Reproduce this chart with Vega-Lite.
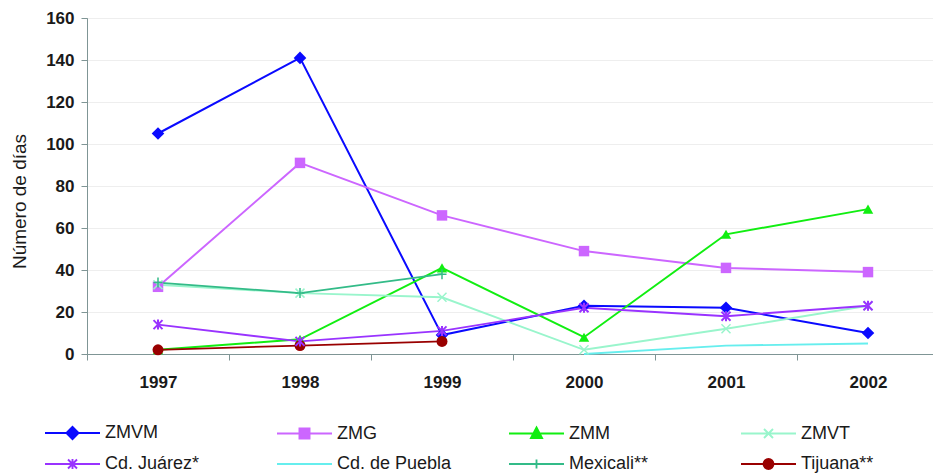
{
  "$schema": "https://vega.github.io/schema/vega-lite/v6.json",
  "autosize": "none",
  "width": 846,
  "height": 336,
  "padding": {"left": 87, "top": 18, "right": 0, "bottom": 119},
  "background": "white",
  "config": {
    "font": "Liberation Sans",
    "view": {"stroke": "#7f9595", "strokeWidth": 1},
    "axis": {"domainColor": "#7f9595", "tickColor": "#7f9595", "labelColor": "#1a1a1a", "titleColor": "#1a1a1a"}
  },
  "data": {"values": [
    {"serie": "ZMVM", "year": "1997", "value": 105},
    {"serie": "ZMVM", "year": "1998", "value": 141},
    {"serie": "ZMVM", "year": "1999", "value": 9},
    {"serie": "ZMVM", "year": "2000", "value": 23},
    {"serie": "ZMVM", "year": "2001", "value": 22},
    {"serie": "ZMVM", "year": "2002", "value": 10},
    {"serie": "ZMG", "year": "1997", "value": 32},
    {"serie": "ZMG", "year": "1998", "value": 91},
    {"serie": "ZMG", "year": "1999", "value": 66},
    {"serie": "ZMG", "year": "2000", "value": 49},
    {"serie": "ZMG", "year": "2001", "value": 41},
    {"serie": "ZMG", "year": "2002", "value": 39},
    {"serie": "ZMM", "year": "1997", "value": 2},
    {"serie": "ZMM", "year": "1998", "value": 7},
    {"serie": "ZMM", "year": "1999", "value": 41},
    {"serie": "ZMM", "year": "2000", "value": 8},
    {"serie": "ZMM", "year": "2001", "value": 57},
    {"serie": "ZMM", "year": "2002", "value": 69},
    {"serie": "ZMVT", "year": "1997", "value": 33},
    {"serie": "ZMVT", "year": "1998", "value": 29},
    {"serie": "ZMVT", "year": "1999", "value": 27},
    {"serie": "ZMVT", "year": "2000", "value": 2},
    {"serie": "ZMVT", "year": "2001", "value": 12},
    {"serie": "ZMVT", "year": "2002", "value": 23},
    {"serie": "Cd. Juárez*", "year": "1997", "value": 14},
    {"serie": "Cd. Juárez*", "year": "1998", "value": 6},
    {"serie": "Cd. Juárez*", "year": "1999", "value": 11},
    {"serie": "Cd. Juárez*", "year": "2000", "value": 22},
    {"serie": "Cd. Juárez*", "year": "2001", "value": 18},
    {"serie": "Cd. Juárez*", "year": "2002", "value": 23},
    {"serie": "Cd. de Puebla", "year": "2000", "value": 0},
    {"serie": "Cd. de Puebla", "year": "2001", "value": 4},
    {"serie": "Cd. de Puebla", "year": "2002", "value": 5},
    {"serie": "Mexicali**", "year": "1997", "value": 34},
    {"serie": "Mexicali**", "year": "1998", "value": 29},
    {"serie": "Mexicali**", "year": "1999", "value": 38},
    {"serie": "Tijuana**", "year": "1997", "value": 2},
    {"serie": "Tijuana**", "year": "1998", "value": 4},
    {"serie": "Tijuana**", "year": "1999", "value": 6}
  ]},
  "encoding": {
    "x": {
      "field": "year", "type": "ordinal",
      "scale": {"type": "band", "paddingInner": 0, "paddingOuter": 0, "range": [0, 852]},
      "axis": {"title": null, "labelAngle": 0, "tickBand": "extent", "tickSize": 6, "labelPadding": 14, "labelFontSize": 17, "labelFontWeight": "bold", "grid": false, "labelBound": false, "labelOverlap": false}
    },
    "y": {
      "field": "value", "type": "quantitative",
      "scale": {"domain": [0, 160], "nice": false},
      "axis": {"title": "Número de días", "values": [0, 20, 40, 60, 80, 100, 120, 140, 160], "tickSize": 6, "labelPadding": 7, "labelFontSize": 17, "labelFontWeight": "bold", "titleFontSize": 19, "titleFontWeight": "normal", "titlePadding": 16, "titleY": 183, "grid": true, "gridColor": "#eeeeee"}
    },
    "color": {
      "field": "serie", "type": "nominal",
      "scale": {
        "domain": ["ZMVM", "ZMG", "ZMM", "ZMVT", "Cd. Juárez*", "Cd. de Puebla", "Mexicali**", "Tijuana**"],
        "range": ["#0a0aff", "#cc66ff", "#11ee11", "#99f5cc", "#9933ff", "#66eeee", "#33bb88", "#990000"]
      },
      "legend": {
        "title": null, "orient": "none", "legendX": -43, "legendY": 404,
        "columns": 4, "direction": "horizontal", "gridAlign": "all",
        "columnPadding": 53, "rowPadding": 10, "padding": 0,
        "symbolSize": 400, "labelOffset": 39, "labelFontSize": 18, "labelColor": "#1a1a1a", "labelLimit": 300,
        "encode": {
          "symbols": {"update": {
            "shape": {"signal": "datum.value==='ZMVM'?'M-1,0H4.5M1.75,-0.6L2.35,0L1.75,0.6L1.15,0Z':datum.value==='ZMG'?'M-1,0H4.5M1.25,-0.5H2.25V0.5H1.25Z':datum.value==='ZMM'?'M-1,0H4.5M1.75,-0.6L2.3,0.45H1.2Z':datum.value==='ZMVT'?'M-1,0H4.5M1.3,-0.45L2.2,0.45M1.3,0.45L2.2,-0.45':datum.value==='Cd. Juárez*'?'M-1,0H4.5M1.3,-0.45L2.2,0.45M1.3,0.45L2.2,-0.45M1.75,-0.5V0.5':datum.value==='Mexicali**'?'M-1,0H4.5M1.75,-0.45V0.45':datum.value==='Tijuana**'?'M-1,0H4.5M1.25,0A0.5,0.5,0,1,0,2.25,0A0.5,0.5,0,1,0,1.25,0':'M-1,0H4.5'"},
            "fill": {"scale": "color", "field": "value"},
            "stroke": {"scale": "color", "field": "value"},
            "strokeWidth": {"value": 2.5},
            "size": {"value": 400},
            "opacity": {"value": 1}
          }}
        }
      }
    }
  },
  "layer": [
    {
      "mark": {"type": "line"},
      "encoding": {
        "strokeWidth": {
          "field": "serie", "type": "nominal",
          "scale": {
            "domain": ["ZMVM", "ZMG", "ZMM", "ZMVT", "Cd. Juárez*", "Cd. de Puebla", "Mexicali**", "Tijuana**"],
            "range": [2, 1.8, 2, 1.4, 2, 1.6, 1.4, 2]
          },
          "legend": null
        }
      }
    },
    {
      "transform": [{"filter": {"field": "serie", "equal": "ZMVM"}}],
      "mark": {"type": "point", "filled": true, "opacity": 1, "size": 110, "shape": "M0,-1.2L1.2,0L0,1.2L-1.2,0Z"}
    },
    {
      "transform": [{"filter": {"field": "serie", "equal": "ZMG"}}],
      "mark": {"type": "point", "filled": true, "opacity": 1, "size": 110, "shape": "square"}
    },
    {
      "transform": [{"filter": {"field": "serie", "equal": "ZMM"}}],
      "mark": {"type": "point", "filled": true, "opacity": 1, "size": 110, "shape": "triangle-up"}
    },
    {
      "transform": [{"filter": {"field": "serie", "equal": "Tijuana**"}}],
      "mark": {"type": "point", "filled": true, "opacity": 1, "size": 120, "shape": "circle"}
    },
    {
      "transform": [{"filter": {"field": "serie", "equal": "ZMVT"}}],
      "mark": {"type": "point", "filled": false, "opacity": 1, "size": 100, "strokeWidth": 1.5, "shape": "M-0.9,-0.9L0.9,0.9M-0.9,0.9L0.9,-0.9"}
    },
    {
      "transform": [{"filter": {"field": "serie", "equal": "Cd. Juárez*"}}],
      "mark": {"type": "point", "filled": false, "opacity": 1, "size": 100, "strokeWidth": 2, "shape": "M-0.9,-0.9L0.9,0.9M-0.9,0.9L0.9,-0.9M0,-1V1"}
    },
    {
      "transform": [{"filter": {"field": "serie", "equal": "Mexicali**"}}],
      "mark": {"type": "point", "filled": false, "opacity": 1, "size": 100, "strokeWidth": 1.5, "shape": "M0,-1V1M-0.9,0H0.9"}
    }
  ]
}
